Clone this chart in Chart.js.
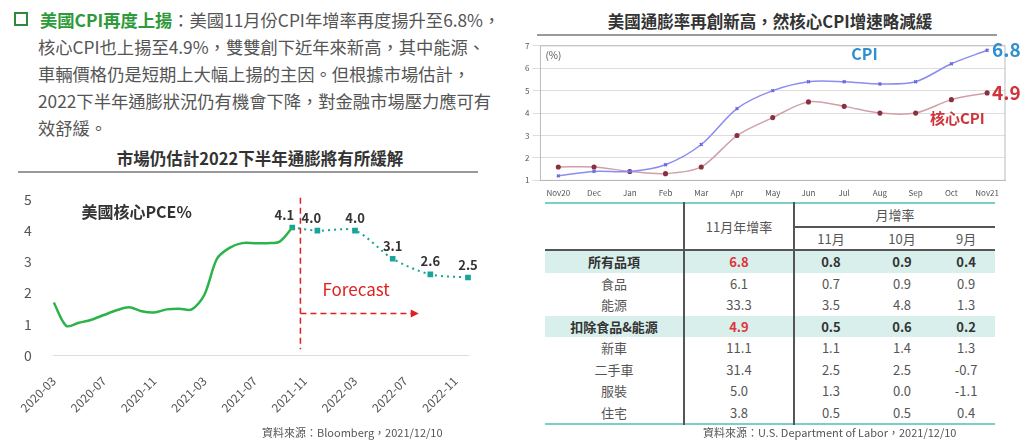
<!DOCTYPE html>
<html><head><meta charset="utf-8">
<script src="https://cdn.jsdelivr.net/npm/chart.js@4"></script>
<style>
body{margin:0;width:1024px;height:443px;background:#fff;font-family:"Noto Sans CJK TC","Noto Sans",sans-serif;color:#444;position:relative;overflow:hidden}
.abs{position:absolute}
#para{left:14px;top:6px;width:510px;font-size:17.3px;line-height:27px;color:#555;white-space:nowrap}
#para .hd{color:#2e9a3a;font-weight:bold}
#para .box{display:inline-block;width:10px;height:10px;border:2px solid #2e8a3a;margin-right:12px;vertical-align:1px}
.ttl{font-size:16.5px;font-weight:bold;color:#333;text-align:center}
.rule{height:2px;background:#999}
table{border-collapse:collapse;font-size:13px;color:#555}
td{text-align:center;height:21.5px;padding:0}
.hl td{background:#d9efeb;font-weight:bold;color:#333}
.red{color:#e0343a!important}
.src{font-size:11px;color:#555}
</style></head><body>
<div id="para" class="abs"><span class="box"></span><span class="hd">美國CPI再度上揚</span>：美國11月份CPI年增率再度揚升至6.8%，<br><span style="padding-left:24px">核心CPI也上揚至4.9%，雙雙創下近年來新高，其中能源、</span><br><span style="padding-left:24px">車輛價格仍是短期上大幅上揚的主因。但根據市場估計，</span><br><span style="padding-left:24px">2022下半年通膨狀況仍有機會下降，對金融市場壓力應可有</span><br><span style="padding-left:24px">效舒緩。</span></div>
<div class="abs ttl" style="left:0;top:146px;width:520px">市場仍估計2022下半年通膨將有所緩解</div>
<div class="abs rule" style="left:18px;top:171px;width:460px"></div>
<div class="abs" style="left:0;top:177px;width:490px;height:248px"><canvas id="pce"></canvas></div>
<div class="abs src" style="left:262px;top:424px">資料來源：Bloomberg，2021/12/10</div>

<div class="abs ttl" style="left:520px;top:9px;width:500px">美國通膨率再創新高，然核心CPI增速略減緩</div>
<div class="abs rule" style="left:537px;top:34px;width:460px"></div>
<div class="abs" style="left:522px;top:38px;width:500px;height:160px"><canvas id="cpi"></canvas></div>

<table class="abs" style="left:545px;top:202px;width:450px;border-top:2px solid #7ccfc6;border-bottom:2px solid #7ccfc6">
<tr><td rowspan="2" style="width:138px;border-right:2px solid #555"></td><td rowspan="2" style="width:108px;border-right:2px solid #555">11月年增率</td><td colspan="3" style="border-bottom:2px solid #555">月增率</td></tr>
<tr><td>11月</td><td>10月</td><td>9月</td></tr>
<tbody id="tb" style="border-top:2px solid #555"></tbody>
</table>
<div class="abs src" style="left:703px;top:424px">資料來源：U.S. Department of Labor，2021/12/10</div>

<script>
// left chart data: core PCE, monthly 2020-03 .. 2022-12
const pceMonths = ['2020-03','2020-04','2020-05','2020-06','2020-07','2020-08','2020-09','2020-10','2020-11','2020-12',
  '2021-01','2021-02','2021-03','2021-04','2021-05','2021-06','2021-07','2021-08','2021-09','2021-10','2021-11','2021-12',
  '2022-01','2022-02','2022-03','2022-04','2022-05','2022-06','2022-07','2022-08','2022-09','2022-10','2022-11','2022-12'];
const pceActual = [1.7,0.95,1.05,1.15,1.3,1.45,1.55,1.42,1.38,1.48,1.5,1.48,1.95,3.1,3.45,3.6,3.6,3.6,3.65,4.1];
const pceForecast = {19:4.1,21:4.0,24:4.0,27:3.1,30:2.6,33:2.5};

// right chart data
const cpiMonths = ['Nov20','Dec','Jan','Feb','Mar','Apr','May','Jun','Jul','Aug','Sep','Oct','Nov21'];
const cpiValues = [1.2,1.4,1.4,1.7,2.6,4.2,5.0,5.4,5.4,5.3,5.4,6.2,6.8];
const coreCpiValues = [1.6,1.6,1.4,1.3,1.6,3.0,3.8,4.5,4.3,4.0,4.0,4.6,4.9];

// table
const tableRows = [
  ['所有品項','6.8','0.8','0.9','0.4',true],
  ['食品','6.1','0.7','0.9','0.9',false],
  ['能源','33.3','3.5','4.8','1.3',false],
  ['扣除食品&能源','4.9','0.5','0.6','0.2',true],
  ['新車','11.1','1.1','1.4','1.3',false],
  ['二手車','31.4','2.5','2.5','-0.7',false],
  ['服裝','5.0','1.3','0.0','-1.1',false],
  ['住宅','3.8','0.5','0.5','0.4',false]
];

const tb = document.getElementById('tb');
tableRows.forEach(r => {
  const tr = document.createElement('tr');
  if (r[5]) tr.className = 'hl';
  tr.innerHTML = `<td style="border-right:2px solid #555">${r[0]}</td><td style="border-right:2px solid #555" class="${r[5]?'red':''}">${r[1]}</td><td>${r[2]}</td><td>${r[3]}</td><td>${r[4]}</td>`;
  tb.appendChild(tr);
});

const FONT = '"Noto Sans CJK TC","Noto Sans",sans-serif';
Chart.defaults.font.family = FONT;
Chart.defaults.animation = false;

const forecastData = pceMonths.map((m, i) => pceForecast[i] !== undefined ? pceForecast[i] : null);

const pceDecor = {
  id: 'pceDecor',
  afterDatasetsDraw(chart) {
    const {ctx, scales: {x, y}} = chart;
    ctx.save();
    // labels on forecast points
    ctx.fillStyle = '#333';
    ctx.font = 'bold 13px ' + FONT;
    ctx.textAlign = 'center';
    pceMonths.forEach((m, i) => {
      if (pceForecast[i] === undefined) return;
      const v = pceForecast[i];
      let px = x.getPixelForValue(i);
      if (i === 19) px -= 8;
      if (i === 21) px -= 6;
      ctx.fillText(v.toFixed(1), px, y.getPixelForValue(v) - 8);
    });
    // series caption
    ctx.font = 'bold 16px ' + FONT;
    ctx.textAlign = 'left';
    ctx.fillText('美國核心PCE%', x.getPixelForValue(2.2), y.getPixelForValue(4.4));
    // forecast divider
    const lx = x.getPixelForValue(19.65);
    ctx.strokeStyle = '#e02020';
    ctx.lineWidth = 1.5;
    ctx.setLineDash([6, 4]);
    ctx.beginPath();
    ctx.moveTo(lx, y.getPixelForValue(5.05));
    ctx.lineTo(lx, y.getPixelForValue(0.2));
    ctx.stroke();
    const ay = y.getPixelForValue(1.35);
    const ax = x.getPixelForValue(28.6);
    ctx.beginPath();
    ctx.moveTo(lx, ay);
    ctx.lineTo(ax, ay);
    ctx.stroke();
    ctx.setLineDash([]);
    ctx.fillStyle = '#e02020';
    ctx.beginPath();
    ctx.moveTo(ax + 6, ay); ctx.lineTo(ax - 2, ay - 4); ctx.lineTo(ax - 2, ay + 4); ctx.fill();
    ctx.font = '17px ' + FONT;
    ctx.fillText('Forecast', x.getPixelForValue(21.4), y.getPixelForValue(1.9));
    ctx.restore();
  }
};

new Chart(document.getElementById('pce'), {
  type: 'line',
  data: {
    labels: pceMonths,
    datasets: [
      {data: pceActual, borderColor: '#2cb34a', borderWidth: 2.5, pointRadius: 0, tension: 0.3},
      {data: forecastData, spanGaps: true, borderColor: '#1aa39a', borderWidth: 2, borderDash: [2, 4],
       pointStyle: 'rect', pointRadius: 4, pointBackgroundColor: '#1aa39a', pointBorderWidth: 0, tension: 0.3}
    ]
  },
  options: {
    responsive: true, maintainAspectRatio: false,
    layout: {padding: {left: 10, right: 22, top: 0}},
    plugins: {legend: {display: false}, tooltip: {enabled: false}},
    scales: {
      x: {
        grid: {display: false, drawTicks: true},
        border: {color: '#ddd'},
        ticks: {
          autoSkip: false, maxRotation: 45, minRotation: 45, color: '#555', font: {size: 12}, padding: 10,
          callback: (v, i) => i % 4 === 0 ? pceMonths[i] : ''
        }
      },
      y: {
        min: 0, max: 5,
        grid: {display: false},
        border: {display: false},
        ticks: {stepSize: 1, color: '#555', font: {size: 14}, padding: 14}
      }
    }
  },
  plugins: [pceDecor]
});

const cpiDecor = {
  id: 'cpiDecor',
  afterDatasetsDraw(chart) {
    const {ctx, chartArea: a, scales: {x, y}} = chart;
    ctx.save();
    ctx.strokeStyle = '#bbb';
    ctx.lineWidth = 1;
    ctx.strokeRect(a.left, a.top, a.right - a.left, a.bottom - a.top);
    ctx.fillStyle = '#555';
    ctx.font = '10px ' + FONT;
    ctx.fillText('(%)', a.left + 5, a.top + 13);
    ctx.font = 'bold 16px ' + FONT;
    ctx.fillStyle = '#2f8fd0';
    ctx.fillText('CPI', x.getPixelForValue(8.2), y.getPixelForValue(6.35));
    ctx.font = 'bold 19px ' + FONT;
    ctx.fillText('6.8', a.right - 13, y.getPixelForValue(6.8) + 7);
    ctx.fillStyle = '#d0343a';
    ctx.fillText('4.9', a.right - 13, y.getPixelForValue(4.9) + 7);
    ctx.font = 'bold 15px ' + FONT;
    ctx.fillText('核心CPI', x.getPixelForValue(10.4), y.getPixelForValue(3.5));
    ctx.restore();
  }
};

new Chart(document.getElementById('cpi'), {
  type: 'line',
  data: {
    labels: cpiMonths,
    datasets: [
      {data: cpiValues, borderColor: '#8c8cf0', borderWidth: 1.5, pointRadius: 2, pointStyle: 'crossRot',
       pointBorderColor: '#6a6ae0', tension: 0.3},
      {data: coreCpiValues, borderColor: '#d0a0a8', borderWidth: 1.5, pointRadius: 1.8,
       pointBackgroundColor: '#8a3040', pointBorderColor: '#8a3040', tension: 0.3}
    ]
  },
  options: {
    responsive: true, maintainAspectRatio: false,
    layout: {padding: {right: 17, top: 6}},
    plugins: {legend: {display: false}, tooltip: {enabled: false}},
    scales: {
      x: {offset: true, grid: {display: false}, border: {color: '#bbb'}, ticks: {color: '#555', font: {size: 8}, maxRotation: 0, padding: 0}},
      y: {min: 1, max: 7, grid: {color: '#ddd'}, border: {display: false},
          ticks: {stepSize: 1, color: '#555', font: {size: 8}}}
    }
  },
  plugins: [cpiDecor]
});
</script>
</body></html>
